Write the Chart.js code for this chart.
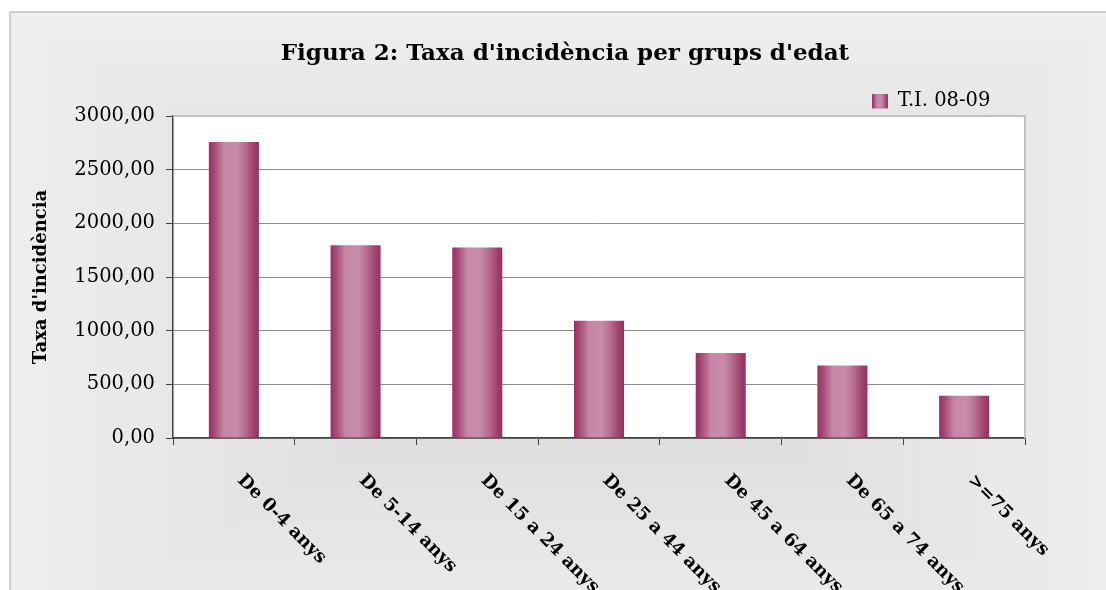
<!DOCTYPE html>
<html><head><meta charset="utf-8">
<script src="https://cdn.jsdelivr.net/npm/chart.js@4.4.1/dist/chart.umd.min.js"></script>
<style>html,body{margin:0;padding:0;background:#fff;}canvas{display:block;}</style>
</head><body>
<canvas id="c" width="1106" height="590"></canvas>
<script>
// ---- data ----
const chartTitle = "Figura 2: Taxa d'incidència per grups d'edat";
const yAxisTitle = "Taxa d'incidència";
const seriesName = "T.I. 08-09";
const categories = ["De 0-4 anys", "De 5-14 anys", "De 15 a 24 anys", "De 25 a 44 anys", "De 45 a 64 anys", "De 65 a 74 anys", ">=75 anys"];
const values = [2758, 1795, 1775, 1093, 793, 676, 394];
const yMin = 0, yMax = 3000, yStep = 500;

// ---- style ----
const FAMILY = "'DejaVu Serif', serif";
const BAR_FRAC = 0.411;

function barGradient(ctx, x0, x1) {
  const g = ctx.createLinearGradient(x0, 0, x1, 0);
  g.addColorStop(0, '#963062');
  g.addColorStop(0.12, '#a74c78');
  g.addColorStop(0.3, '#c586a5');
  g.addColorStop(0.55, '#c88ca9');
  g.addColorStop(0.72, '#b66f90');
  g.addColorStop(0.88, '#a2456f');
  g.addColorStop(1, '#953060');
  return g;
}

function barFill(c) {
  const chart = c.chart;
  const xs = chart.scales && chart.scales.x;
  if (c.type !== 'data' || !xs || !chart.chartArea) return '#b0587f';
  const cx = xs.getPixelForValue(c.dataIndex);
  const w = (xs.width / categories.length) * BAR_FRAC;
  return barGradient(chart.ctx, cx - w / 2, cx + w / 2);
}

const bgPlugin = {
  id: 'bg',
  beforeDraw(chart) {
    const {ctx, chartArea: a} = chart;
    ctx.save();
    ctx.fillStyle = '#ffffff';
    ctx.fillRect(0, 0, chart.width, chart.height);
    // rectangular "from centre" gradient
    const bx0 = 10, by0 = 12, bx1 = 1130, by1 = 650;
    const cx = (bx0 + bx1) / 2, cy = (by0 + by1) / 2;
    const hw = (bx1 - bx0) / 2, hh = (by1 - by0) / 2;
    const N = 40;
    const c0 = [238, 238, 238], c1 = [214, 214, 214];
    for (let k = 0; k < N; k++) {
      const t = k / N, s = 1 - t;
      const col = c0.map((v, i) => Math.round(v + (c1[i] - v) * t));
      ctx.fillStyle = `rgb(${col[0]},${col[1]},${col[2]})`;
      ctx.fillRect(cx - hw * s, cy - hh * s, 2 * hw * s, 2 * hh * s);
    }
    ctx.strokeStyle = '#c4c4c4';
    ctx.lineWidth = 1.5;
    ctx.strokeRect(bx0, by0, bx1 - bx0, by1 - by0);
    ctx.fillStyle = '#ffffff';
    ctx.fillRect(a.left, a.top, a.right - a.left, a.bottom - a.top);
    ctx.restore();
  },
  beforeDatasetsDraw(chart) {
    const {ctx, chartArea: a} = chart;
    ctx.save();
    ctx.strokeStyle = '#c2c2c2';
    ctx.lineWidth = 2;
    ctx.beginPath();
    ctx.moveTo(a.left, a.top);
    ctx.lineTo(a.right, a.top);
    ctx.lineTo(a.right, a.bottom);
    ctx.stroke();
    ctx.restore();
  }
};

const shiftPlugin = {
  id: 'shift',
  afterLayout(chart) {
    const lg = chart.legend;
    if (lg && lg.lineWidths) {
      const dx = 872 - (lg.right - lg.lineWidths[0]);
      lg.left += dx; lg.right += dx; lg.top += 5; lg.bottom += 5;
    }
    const t = chart.titleBlock;
    if (t) {
      const dx = 565 - (t.left + t.right) / 2;
      t.left += dx; t.right += dx;
    }
  },
  afterDraw(chart) {
    const {ctx} = chart;
    const lg = chart.legend;
    if (lg && lg.lineWidths) {
      const x0 = lg.right - lg.lineWidths[0];
      const y0 = lg.top + 5 + (19.5 - 14) / 2;
      ctx.save();
      ctx.fillStyle = barGradient(ctx, x0, x0 + 16);
      ctx.fillRect(x0, y0, 16, 14);
      ctx.restore();
    }
    // rotated category labels (reading downwards)
    const xs = chart.scales.x;
    ctx.save();
    ctx.font = "bold 18px " + FAMILY;
    ctx.fillStyle = '#000';
    ctx.textAlign = 'left';
    ctx.textBaseline = 'alphabetic';
    categories.forEach((lab, i) => {
      const px = xs.getPixelForValue(i);
      ctx.save();
      ctx.translate(px + 3, chart.chartArea.bottom + 43);
      ctx.rotate(Math.PI / 4);
      ctx.fillText(lab, 0, 0);
      ctx.restore();
    });
    ctx.restore();
  }
};

new Chart(document.getElementById('c'), {
  type: 'bar',
  data: {
    labels: categories,
    datasets: [{
      label: seriesName,
      data: values,
      yAxisID: 'y',
      backgroundColor: barFill,
      borderWidth: 0,
      barPercentage: BAR_FRAC,
      categoryPercentage: 1
    }]
  },
  options: {
    responsive: false,
    devicePixelRatio: 1,
    animation: false,
    layout: {padding: {top: 14, left: 27, right: 81, bottom: 0}},
    plugins: {
      title: {
        display: true, text: chartTitle, color: '#000',
        font: {family: FAMILY, size: 23, weight: 'bold'},
        padding: {top: 26, bottom: 13.9}
      },
      legend: {
        display: true, position: 'top', align: 'end',
        labels: {boxWidth: 16, boxHeight: 14, padding: 5, color: '#000', font: {family: FAMILY, size: 19.5}}
      },
      tooltip: {enabled: false}
    },
    scales: {
      x: {
        ticks: {display: false},
        grid: {display: true, drawOnChartArea: false, drawTicks: true, tickLength: 7, tickColor: '#404040', offset: true},
        border: {display: true, color: '#404040', width: 1.5},
        afterFit(s) { s.height = 152; }
      },
      y: {
        min: yMin, max: yMax,
        ticks: {
          stepSize: yStep, padding: 11, color: '#000',
          font: {family: FAMILY, size: 19.5},
          callback: v => Number(v).toFixed(2).replace('.', ',')
        },
        grid: {
          color: c => (c.tick && c.tick.value === yMax) ? 'rgba(0,0,0,0)' : '#8c8c8c',
          lineWidth: 1, tickLength: 7, tickColor: '#404040'
        },
        border: {display: true, color: '#404040', width: 1.5},
        title: {
          display: true, text: yAxisTitle, color: '#000',
          font: {family: FAMILY, size: 18, weight: 'bold'},
          padding: {top: 4, bottom: 0}
        },
        afterFit(s) { s.width = 146; }
      }
    }
  },
  plugins: [bgPlugin, shiftPlugin]
});
</script>
</body></html>
